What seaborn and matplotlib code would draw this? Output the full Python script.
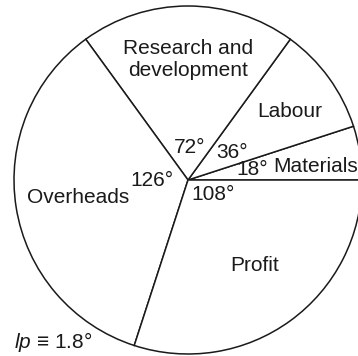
import matplotlib
matplotlib.use("Agg")
import matplotlib.pyplot as plt
import seaborn as sns
import numpy as np

sns.set_theme(style="white")
plt.rcParams['font.family'] = ['Liberation Sans', 'DejaVu Sans']
plt.rcParams['mathtext.fontset'] = 'custom'
plt.rcParams['mathtext.it'] = 'Liberation Sans:italic'
plt.rcParams['mathtext.rm'] = 'Liberation Sans'

# Data (slice angles in degrees, counter-clockwise from the right)
categories = ["Materials", "Labour", "Research and\ndevelopment", "Overheads", "Profit"]
degrees = [18, 36, 72, 126, 108]
degree_labels = ["18°", "36°", "72°", "126°", "108°"]

# Layout (pixels-like data coords)
W, H = 358, 356
cx, cy, R = 188, 176, 174
name_dist = [128, 123, 120, 111, 108]
name_ang_off = [-3, -2, 0, 0, 2]
deg_pos = [(9, 65), (32, 52), (88, 33), (180, 36), (329, 29)]  # (angle, radius)

fig = plt.figure(figsize=(W / 100, H / 100), dpi=100)
ax = fig.add_axes([0, 0, 1, 1])
ax.set_xlim(0, W)
ax.set_ylim(0, H)
ax.set_aspect('equal')
ax.axis('off')

wedges, _ = ax.pie(degrees, startangle=0, counterclock=True, radius=R, center=(cx, cy),
                   colors=['white'] * len(degrees),
                   wedgeprops=dict(edgecolor='#1a1a1a', linewidth=1.1))
ax.set_xlim(0, W)
ax.set_ylim(0, H)

fs = 15
tc = '#1a1a1a'
start = 0
for i, (name, d) in enumerate(zip(categories, degrees)):
    mid = np.deg2rad(start + d / 2 + name_ang_off[i])
    x = cx + name_dist[i] * np.cos(mid)
    y = cy + name_dist[i] * np.sin(mid)
    ax.text(x, y, name, ha='center', va='center', fontsize=fs, color=tc,
            linespacing=1.2)
    start += d

for lab, (a, r) in zip(degree_labels, deg_pos):
    t = np.deg2rad(a)
    ax.text(cx + r * np.cos(t), cy + r * np.sin(t), lab, ha='center', va='center',
            fontsize=fs, color=tc)

ax.text(14, 14, r"$\mathit{lp}$" + " ≡ 1.8°", ha='left', va='center', fontsize=fs,
        color=tc)

fig.savefig("out.png", dpi=100)
